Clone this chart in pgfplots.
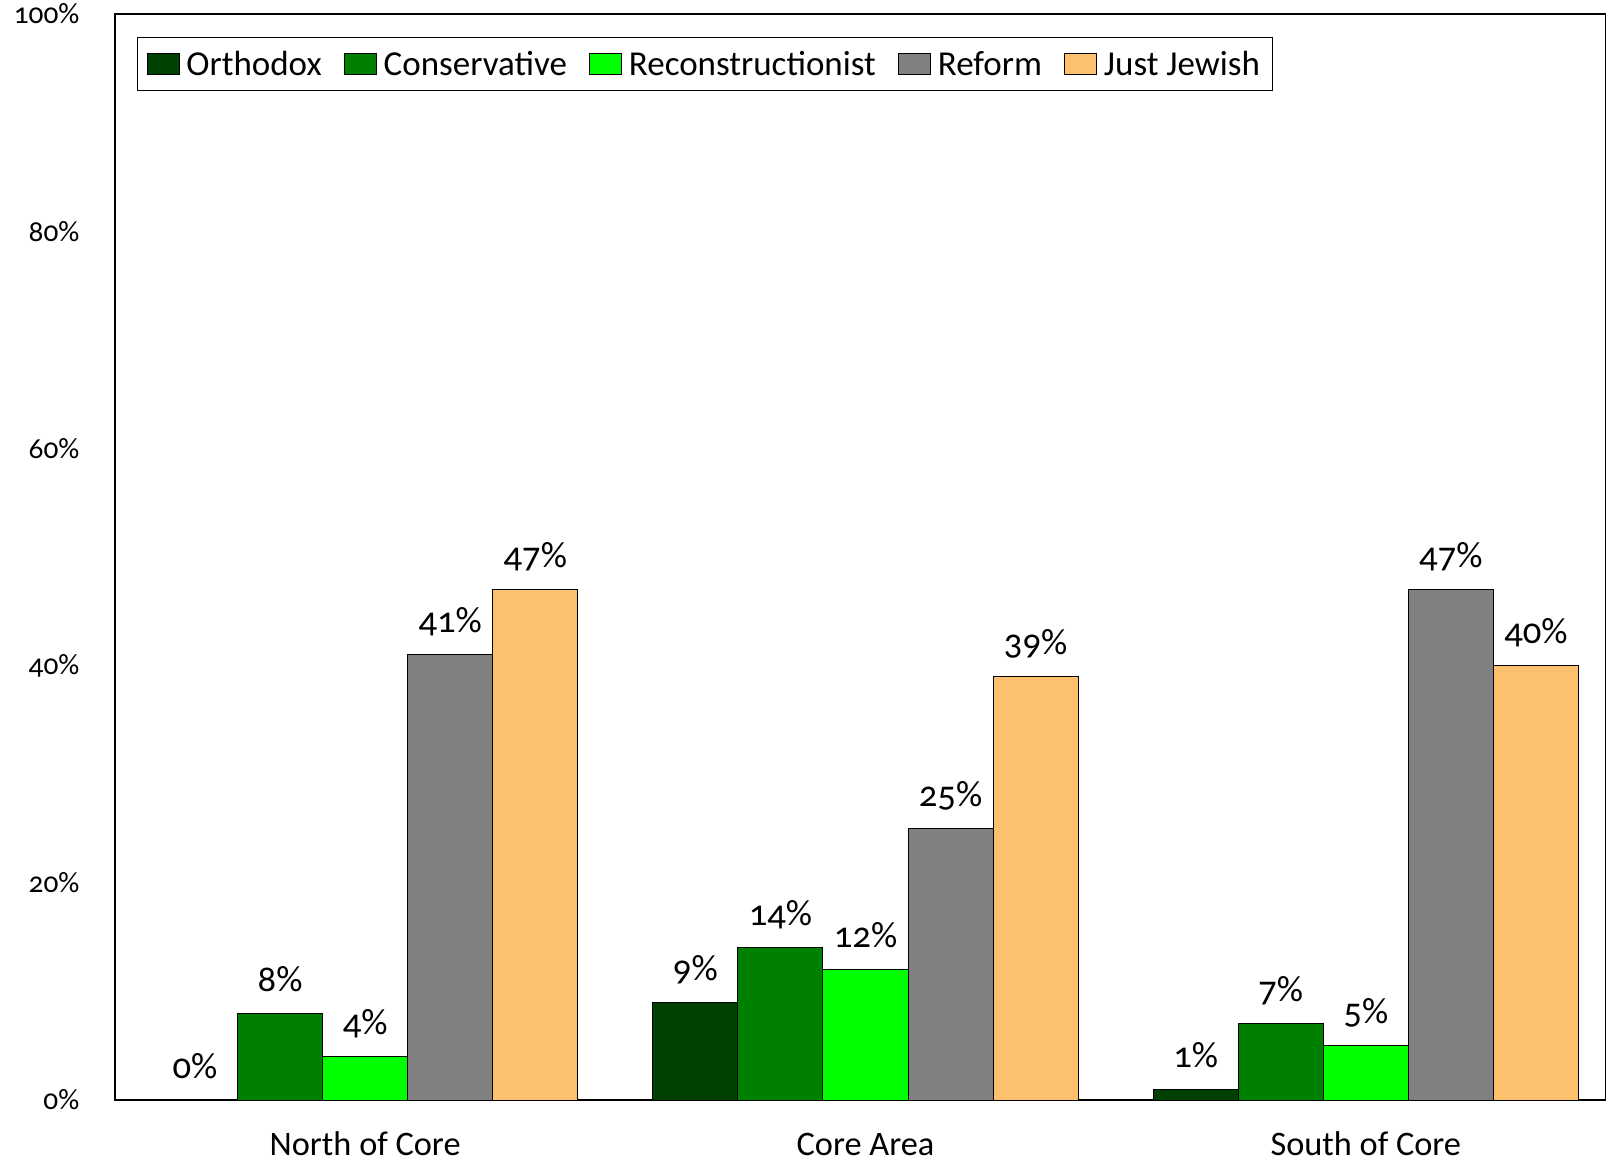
\documentclass[border=0pt]{standalone}
\usepackage{pgfplots}
\pgfplotsset{compat=1.18}
\usepackage{fontspec}
\setmainfont{Carlito}[Numbers=OldStyle]

\definecolor{orth}{RGB}{0,64,0}
\definecolor{cons}{RGB}{0,128,0}
\definecolor{recon}{RGB}{0,255,0}
\definecolor{reform}{RGB}{128,128,128}
\definecolor{just}{RGB}{253,192,108}

\begin{document}
\begin{tikzpicture}
\begin{axis}[
  scale only axis,
  width=447.3pt, height=325.8pt,
  xmin=-0.5, xmax=2.48, ymin=0, ymax=100,
  xtick={0,1,2},
  xticklabels={North of Core, Core Area, South of Core},
  ytick={0,20,40,60,80,100},
  yticklabels={0\%,20\%,40\%,60\%,80\%,100\%},
  major tick length=0pt,
  axis line style={line width=0.45pt},
  xticklabel style={anchor=base, inner sep=0pt, yshift=-16.5pt, font=\fontsize{10.3}{12}\selectfont},
  yticklabel style={anchor=east, inner sep=0pt, xshift=-10.5pt, font=\fontsize{8.8}{10}\selectfont},
  /pgf/number format/assume math mode=true,
  ybar, bar width=0.17,
  every axis plot/.append style={draw=black, line width=0.3pt},
  nodes near coords={\pgfmathprintnumber{\pgfplotspointmeta}\%},
  nodes near coords style={anchor=base, inner sep=0pt, yshift=6.6pt, text=black, font=\fontsize{11}{13}\selectfont},
  legend columns=5,
  legend style={at={(rel axis cs:0,1)}, anchor=north west, xshift=6.6pt, yshift=-6.9pt,
    draw=black, line width=0.45pt, inner xsep=2.7pt, inner ysep=3pt,
    font=\fontsize{10.5}{12}\selectfont,
    nodes={inner sep=1pt, text height=7.3pt, text depth=0.5pt},
    /tikz/every odd column/.append style={column sep=1pt},
    /tikz/every even column/.append style={column sep=5.7pt}},
  legend image code/.code={\draw[#1, line width=0.3pt] (0pt,-3.15pt) rectangle (9.6pt,3.15pt);},
]
\addplot[fill=orth, bar shift=-0.34] coordinates {(0,0) (1,9) (2,1)};
\addplot[fill=cons, bar shift=-0.17] coordinates {(0,8) (1,14) (2,7)};
\addplot[fill=recon, bar shift=0] coordinates {(0,4) (1,12) (2,5)};
\addplot[fill=reform, bar shift=0.17] coordinates {(0,41) (1,25) (2,47)};
\addplot[fill=just, bar shift=0.34] coordinates {(0,47) (1,39) (2,40)};
\legend{Orthodox, Conservative, Reconstructionist, Reform, Just Jewish}
\end{axis}
\pgfresetboundingbox
\path (current axis.south west) ++(-34.5pt,-18.6pt) coordinate (bl);
\path (current axis.north east) ++(0pt,4.2pt) coordinate (tr);
\useasboundingbox (bl) rectangle (tr);
\end{tikzpicture}
\end{document}
